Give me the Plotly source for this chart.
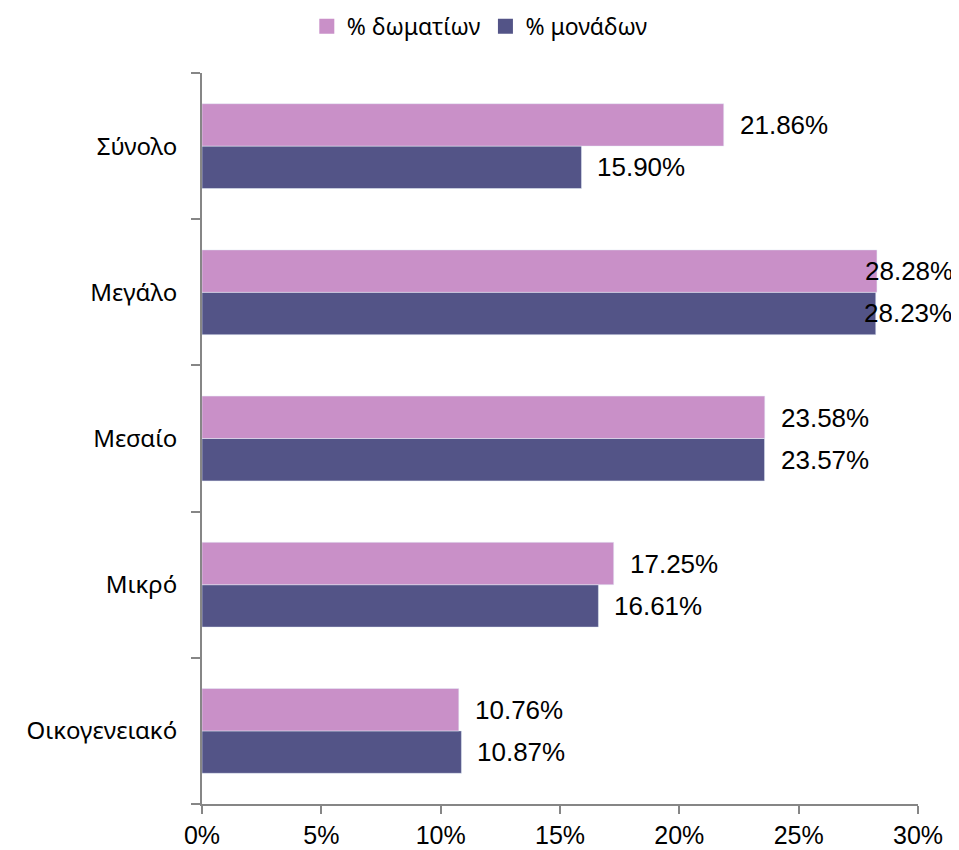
import plotly.graph_objects as go

# categories listed bottom -> top
categories = ['Οικογενειακό', 'Μικρό', 'Μεσαίο', 'Μεγάλο', 'Σύνολο']
pct_rooms = [10.76, 17.25, 23.58, 28.28, 21.86]   # % δωματίων
pct_units = [10.87, 16.61, 23.57, 28.23, 15.90]   # % μονάδων

colors = {
    'rooms': '#C990C8',
    'units': '#535487',
}

fig = go.Figure()

# units first so it sits below the rooms bar inside each group
fig.add_trace(go.Bar(
    y=categories, x=pct_units, orientation='h', name='% μονάδων',
    marker=dict(color=colors['units']), showlegend=False, hoverinfo='x+y',
))
fig.add_trace(go.Bar(
    y=categories, x=pct_rooms, orientation='h', name='% δωματίων',
    marker=dict(color=colors['rooms']), showlegend=False, hoverinfo='x+y',
))

# legend entries with bigger square swatches
for name, key in (('% δωματίων', 'rooms'), ('% μονάδων', 'units')):
    fig.add_trace(go.Scatter(
        x=[None], y=[None], mode='markers', name=name,
        marker=dict(symbol='square', size=15, color=colors[key]),
    ))

# value labels to the right of the bars (pulled back when they'd run off the page)
annotations = []
for i, cat in enumerate(categories):
    for vals, side in ((pct_rooms, 'rooms'), (pct_units, 'units')):
        v = vals[i]
        over = v > 27
        annotations.append(dict(
            x=v, y=cat, xref='x', yref='y',
            text=f'{v:.2f}%', showarrow=False,
            xanchor='right' if over else 'left',
            xshift=78 if over else 14,
            yshift=21 if side == 'rooms' else -21,
            font=dict(family='Liberation Sans, Arial', size=26, color='#000'),
        ))

# page body has an 8px margin, so the figure is shrunk by 8px to fit the window
fig.update_layout(
    width=951, height=842,
    margin=dict(l=194, r=41, t=65, b=46, autoexpand=False),
    plot_bgcolor='white', paper_bgcolor='white',
    barmode='group', bargap=0.42, bargroupgap=0,
    annotations=annotations,
    showlegend=True,
    legend=dict(orientation='h', x=0.388, xanchor='center', y=1.064, yanchor='middle',
                font=dict(family='Noto Sans', size=23, color='#000'),
                itemwidth=30, traceorder='normal', tracegroupgap=0),
    xaxis=dict(range=[0, 30], dtick=5, ticksuffix='%', showgrid=False, zeroline=False,
               showline=True, linecolor='#868686', linewidth=2, ticks='outside',
               ticklen=8, tickcolor='#868686', tickwidth=2, automargin=False,
               tickfont=dict(family='Liberation Sans, Arial', size=25, color='#000')),
    yaxis=dict(type='category', showgrid=False, showline=True, linecolor='#868686',
               linewidth=2, ticks='outside', ticklen=9, tickcolor='#868686', tickwidth=2,
               tickson='boundaries', ticklabelstandoff=18, automargin=False,
               tickfont=dict(family='Noto Sans', size=24, color='#000')),
)

fig.write_html('out.html')
